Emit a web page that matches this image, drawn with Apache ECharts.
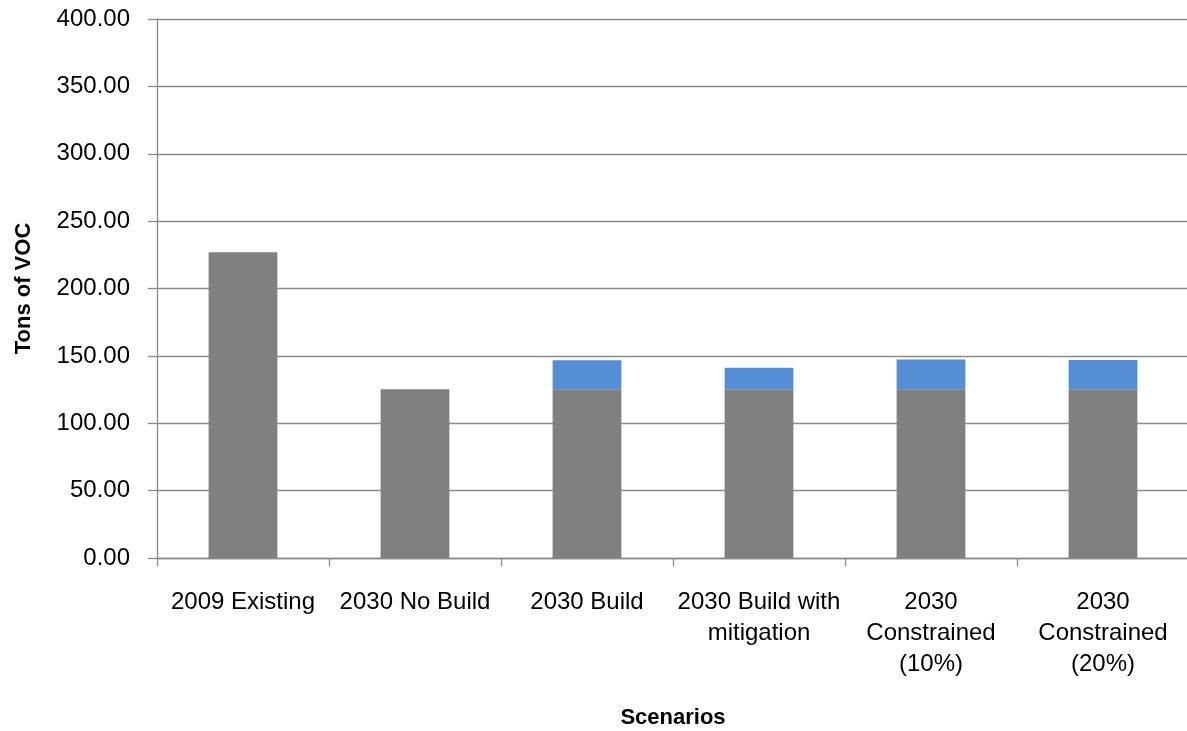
<!DOCTYPE html>
<html>
<head>
<meta charset="utf-8">
<script src="https://cdn.jsdelivr.net/npm/echarts@6/dist/echarts.min.js"></script>
<style>
  html, body { margin: 0; padding: 0; background: #ffffff; }
  #chart { width: 1187px; height: 731px; }
</style>
</head>
<body>
<div id="chart"></div>
<script>
// Scenario names along the category axis
const categories = [
  '2009 Existing',
  '2030 No Build',
  '2030 Build',
  '2030 Build with\nmitigation',
  '2030\nConstrained\n(10%)',
  '2030\nConstrained\n(20%)'
];
// Base emissions (gray) and the added project emissions (blue), tons of VOC
const baseTons = [226.9, 125.2, 125.2, 125.2, 125.2, 125.2];
const addedTons = [0, 0, 21.5, 16.0, 22.2, 21.7];
// Value axis ticks
const yTicks = { min: 0, max: 400, interval: 50 };

const FONT = '"Liberation Sans", Arial, sans-serif';
const GRID_COLOR = '#8a8a8a';

const chart = echarts.init(document.getElementById('chart'), null, { renderer: 'canvas' });

chart.setOption({
  animation: false,
  backgroundColor: '#ffffff',
  grid: {
    left: 157, top: 19, width: 1032, height: 539,
    containLabel: false,
    outerBoundsMode: 'none'
  },
  xAxis: {
    type: 'category',
    data: categories,
    name: 'Scenarios',
    nameLocation: 'middle',
    nameGap: 149,
    nameTextStyle: { fontFamily: FONT, fontSize: 22, fontWeight: 'bold', color: '#000' },
    axisLine: { lineStyle: { color: GRID_COLOR, width: 1.3 } },
    axisTick: { show: true, alignWithLabel: false, length: 8, lineStyle: { color: GRID_COLOR, width: 1.3 } },
    axisLabel: {
      interval: 0,
      margin: 29,
      fontFamily: FONT,
      fontSize: 24,
      lineHeight: 31,
      color: '#000',
      align: 'center'
    },
    splitLine: { show: false }
  },
  yAxis: {
    type: 'value',
    min: yTicks.min,
    max: yTicks.max,
    interval: yTicks.interval,
    name: 'Tons of VOC',
    nameLocation: 'middle',
    nameGap: 122,
    nameRotate: 90,
    nameTextStyle: { fontFamily: FONT, fontSize: 22, fontWeight: 'bold', color: '#000' },
    axisLine: { show: true, lineStyle: { color: GRID_COLOR, width: 1.3 } },
    axisTick: { show: true, length: 9, lineStyle: { color: GRID_COLOR, width: 1.3 } },
    axisLabel: {
      margin: 27,
      fontFamily: FONT,
      fontSize: 24,
      color: '#000',
      formatter: v => v.toFixed(2)
    },
    splitLine: { show: true, lineStyle: { color: GRID_COLOR, width: 1.3 } }
  },
  series: [
    {
      name: 'Base',
      type: 'bar',
      stack: 'total',
      data: baseTons,
      barCategoryGap: '60%',
      itemStyle: { color: '#808080' }
    },
    {
      name: 'Project',
      type: 'bar',
      stack: 'total',
      data: addedTons,
      barCategoryGap: '60%',
      itemStyle: { color: '#558ed5' }
    }
  ]
});
</script>
</body>
</html>
